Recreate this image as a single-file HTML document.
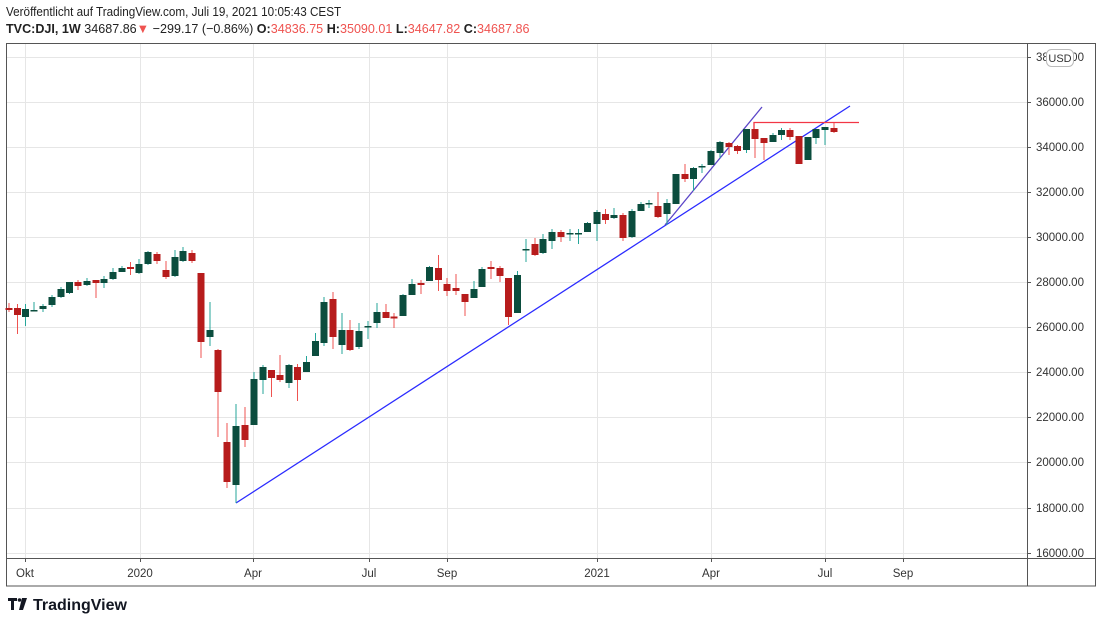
<!DOCTYPE html>
<html><head><meta charset="utf-8"><style>
body{margin:0;background:#fff;width:1100px;height:623px;overflow:hidden;font-family:"Liberation Sans",sans-serif}
.t{position:absolute;white-space:nowrap;color:#131722;transform-origin:0 0}
</style></head><body>
<div class="t" style="left:6px;top:4px;font-size:13px;color:#222;transform:scaleX(0.9)">Veröffentlicht auf TradingView.com, Juli 19, 2021 10:05:43 CEST</div>
<div class="t" style="left:6px;top:21px;font-size:13px;color:#222;transform:scaleX(0.967)"><b>TVC:DJI, 1W</b> 34687.86<span style="color:#ef5350">▼</span> −299.17 (−0.86%) <b>O:</b><span style="color:#ef5350">34836.75</span> <b>H:</b><span style="color:#ef5350">35090.01</span> <b>L:</b><span style="color:#ef5350">34647.82</span> <b>C:</b><span style="color:#ef5350">34687.86</span></div>
<svg width="1100" height="623" style="position:absolute;left:0;top:0" xmlns="http://www.w3.org/2000/svg">
<g stroke="#e6e6e6" stroke-width="1">
<path d="M6 57.5H1027M6 102.5H1027M6 147.5H1027M6 192.5H1027M6 237.5H1027M6 282.5H1027M6 327.5H1027M6 372.5H1027M6 417.5H1027M6 462.5H1027M6 508.5H1027M6 553.5H1027"/>
<path d="M25.5 43V558M140.5 43V558M253.5 43V558M369.5 43V558M447.5 43V558M597.5 43V558M711.5 43V558M825.5 43V558M903.5 43V558"/>
</g>
<rect x="6.5" y="43.5" width="1089" height="542.5" fill="none" stroke="#555" stroke-width="1"/>
<path d="M6 558.5H1096M1027.5 43V586" stroke="#555" stroke-width="1"/>
<g stroke="#555"><path d="M1027 57.5h4M1027 102.5h4M1027 147.5h4M1027 192.5h4M1027 237.5h4M1027 282.5h4M1027 327.5h4M1027 372.5h4M1027 417.5h4M1027 462.5h4M1027 508.5h4M1027 553.5h4"/>
<path d="M25.5 558v4M140.5 558v4M253.5 558v4M369.5 558v4M447.5 558v4M597.5 558v4M711.5 558v4M825.5 558v4M903.5 558v4"/></g>
<g font-size="11.5" fill="#333" font-family="Liberation Sans,sans-serif">
<text x="1036" y="61">38000.00</text><text x="1036" y="106">36000.00</text><text x="1036" y="151">34000.00</text><text x="1036" y="196">32000.00</text><text x="1036" y="241">30000.00</text><text x="1036" y="286">28000.00</text><text x="1036" y="331">26000.00</text><text x="1036" y="376">24000.00</text><text x="1036" y="421">22000.00</text><text x="1036" y="466">20000.00</text><text x="1036" y="512">18000.00</text><text x="1036" y="557">16000.00</text>
<g text-anchor="middle"><text x="25" y="577">Okt</text><text x="140" y="577">2020</text><text x="253" y="577">Apr</text><text x="369" y="577">Jul</text><text x="447" y="577">Sep</text><text x="597" y="577">2021</text><text x="711" y="577">Apr</text><text x="825" y="577">Jul</text><text x="903" y="577">Sep</text></g>
</g>
<rect x="1046.5" y="49.5" width="27" height="17" rx="5" fill="#fff" stroke="#bbb"/>
<text x="1060" y="62" font-size="11" fill="#333" text-anchor="middle" font-family="Liberation Sans,sans-serif">USD</text>
<path d="M236 503L850 106" stroke="#2b2bff" stroke-width="1.3"/>
<path d="M665 225L762 107" stroke="#5b45c8" stroke-width="1.3"/>
<path d="M754 129V122.5H859" stroke="#f23645" stroke-width="1.3" fill="none"/>
<path stroke="#ef5350" stroke-width="1" d="M9 303V312M17.5 304V334M78 280V290M96 280V298M130.5 262V275M157 252V264M166 261V279M192 250V263M201 273V358M218 349V437M227 423V488M245 407V447M271.5 370V397M280 355V382M297.5 364V401M333 292V349M350 320V351M386 304V318M394 313V328M421 280V294M438.5 255V291M447 278V296M456 274V295M465 294V316M491 261V279M500 266V282M508.5 278V325M535 238V256M561 230V242M605.5 209V224M623 213V241M658 192V218M685 164V182M729 142V155M737.5 145V154M755 129V158M764 138V160M790 128V140M799 136V164M834 123V133"/>
<path stroke="#26a69a" stroke-width="1" d="M25.5 304V326M34 302V311M43 304V312M52 295V307M61 287V298M69.5 282V294M87 278V286M104 276V288M113 268V280M122 266V272M139 259V274M148 251V265M175 250V277M183 247V262M210 302V346M236 404V503M254 372V425M263 365V394M289 364V388M306.5 356V372M315.5 333V356M324 297V346M342 313V354M359 323V349M368 321V339M377 303V328M403 294V316M412 279V295M429.5 266V281M474 281V298M482 267V287M517.5 271V313M526 239V262M543 234V254M552 229V249M570 229V241M578.5 229V244M587.5 222V232M597 210V241M614 208V219M632 209V238M641 202V211M649 200V208M667 199V225M676 174V204M693.5 167V191M702 164V173M711 150V165M720 141V158M746.5 129V153M773 133V142M781.5 128V140M808 137V160M816 129V144M825 127V145"/>
<path fill="#b71c1c" d="M5.5 308h7V310h-7ZM14 308h7V315h-7ZM74.5 282h7V286h-7ZM92.5 280h7V283h-7ZM127 267h7V269h-7ZM153.5 254h7V261h-7ZM162.5 270h7V277h-7ZM188.5 253h7V261h-7ZM197.5 273h7V342h-7ZM214.5 350h7V392h-7ZM223.5 442h7V482h-7ZM241.5 425h7V440h-7ZM268 370h7V378h-7ZM276.5 375h7V380h-7ZM294 367h7V380h-7ZM329.5 299h7V337h-7ZM346.5 330h7V350h-7ZM382.5 312h7V318h-7ZM390.5 316.5h7V318.5h-7ZM417.5 283h7V285h-7ZM435 268h7V280h-7ZM443.5 284h7V291h-7ZM452.5 288h7V291h-7ZM461.5 294h7V302h-7ZM487.5 267h7V269h-7ZM496.5 268h7V276h-7ZM505 278h7V317h-7ZM531.5 244h7V255h-7ZM557.5 232h7V237h-7ZM602 214h7V220h-7ZM619.5 215h7V238h-7ZM654.5 206h7V217h-7ZM681.5 174h7V179h-7ZM725.5 143h7V147h-7ZM734 146h7V151h-7ZM751.5 129h7V139h-7ZM760.5 138h7V143h-7ZM786.5 130h7V137h-7ZM795.5 136h7V164h-7ZM830.5 128h7V132h-7Z"/>
<path fill="#0b4d3e" d="M22 309h7V317h-7ZM30.5 310h7V311.5h-7ZM39.5 306h7V309h-7ZM48.5 297h7V305h-7ZM57.5 289h7V297h-7ZM66 282h7V293h-7ZM83.5 281h7V285h-7ZM100.5 279h7V283h-7ZM109.5 272h7V279h-7ZM118.5 268h7V272h-7ZM135.5 264h7V273h-7ZM144.5 252h7V264h-7ZM171.5 257h7V276h-7ZM179.5 251h7V261h-7ZM206.5 330h7V337h-7ZM232.5 426h7V485h-7ZM250.5 379h7V425h-7ZM259.5 367h7V380h-7ZM285.5 365h7V383h-7ZM303 362h7V372h-7ZM312 341h7V356h-7ZM320.5 302h7V343h-7ZM338.5 330h7V345h-7ZM355.5 331h7V347h-7ZM364.5 326h7V327.5h-7ZM373.5 312h7V323h-7ZM399.5 295h7V316h-7ZM408.5 284h7V295h-7ZM426 267h7V281h-7ZM470.5 289h7V298h-7ZM478.5 269h7V287h-7ZM514 275h7V313h-7ZM522.5 249h7V250.5h-7ZM539.5 239h7V253h-7ZM548.5 232h7V241h-7ZM566.5 233h7V234.5h-7ZM575 233h7V234.5h-7ZM584 223h7V232h-7ZM593.5 212h7V224h-7ZM610.5 215h7V218h-7ZM628.5 211h7V237h-7ZM637.5 204h7V211h-7ZM645.5 203h7V204.5h-7ZM663.5 203h7V214h-7ZM672.5 174h7V204h-7ZM690 168h7V179h-7ZM698.5 166h7V167.5h-7ZM707.5 151h7V165h-7ZM716.5 142h7V153h-7ZM743 129h7V150h-7ZM769.5 135h7V142h-7ZM778 130h7V135h-7ZM804.5 137h7V160h-7ZM812.5 129h7V138h-7ZM821.5 127h7V130h-7Z"/>
<g fill="#131722"><path d="M8 598h9v3h-3v9h-3v-9h-3z"/><circle cx="19.5" cy="600" r="1.8"/><path d="M22 598h5l-4 12h-4z"/></g>
<text x="33" y="610" font-size="16" font-weight="bold" fill="#131722" font-family="Liberation Sans,sans-serif">TradingView</text>
</svg>
</body></html>
